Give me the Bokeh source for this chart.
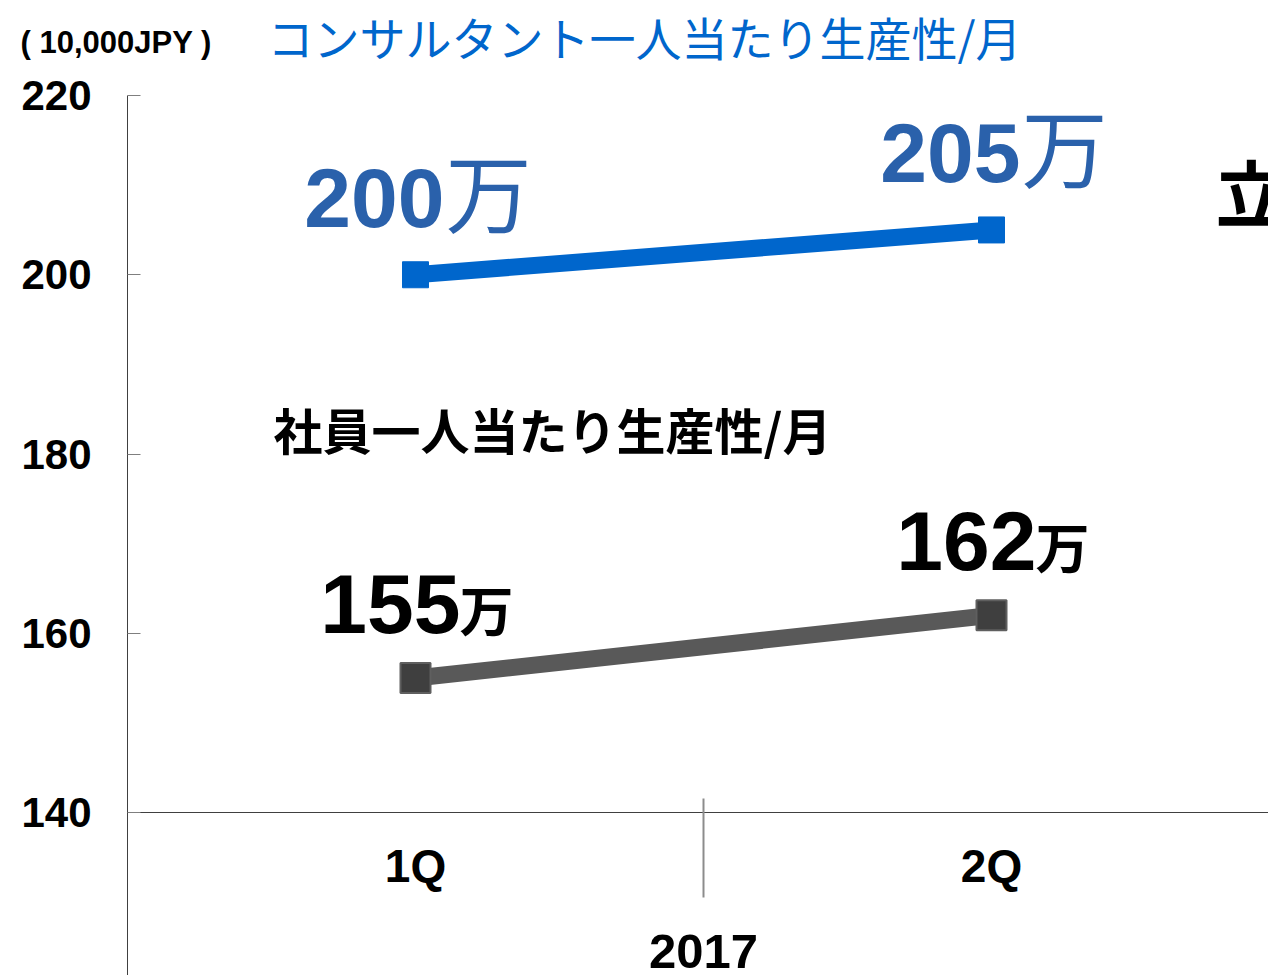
from bokeh.plotting import figure
from bokeh.models import Range1d, LinearAxis, FixedTicker, Label, ColumnDataSource
from bokeh.core.properties import value
from bokeh.embed import file_html
from bokeh.resources import INLINE

# ---- data ----
categories = ["1Q", "2Q"]
year = "2017"
consultant = [200, 205]
employee = [155, 162]
unit = "万"
y_ticks = [140, 160, 180, 200, 220]
title_text = "コンサルタント一人当たり生産性/月"
subtitle_text = "社員一人当たり生産性/月"
unit_text = "( 10,000JPY )"
cut_text = "立"

x = [i + 0.5 for i in range(len(categories))]
seps = [float(i) for i in range(1, len(categories))]

LAT = "Liberation Sans"
CJK = "Noto Sans CJK JP"

W, H = 1268, 975
x0_px, px_per_cat = 127, 576.0
top_px, px_per_unit = 95, 717 / 80.0
x_start = -x0_px / px_per_cat
x_end = (W - x0_px) / px_per_cat
y_end = y_ticks[-1] + top_px / px_per_unit
y_start = y_ticks[-1] - (H - top_px) / px_per_unit

p = figure(width=W, height=H, output_backend="svg", toolbar_location=None,
           x_range=Range1d(x_start, x_end), y_range=Range1d(y_start, y_end),
           x_axis_type=None, y_axis_type=None,
           min_border_left=0, min_border_right=0, min_border_top=0, min_border_bottom=0)
p.outline_line_color = None
p.background_fill_color = "white"
p.border_fill_color = "white"

# y axis
yaxis = LinearAxis(fixed_location=0, ticker=FixedTicker(ticks=y_ticks),
                   bounds=(y_start, y_ticks[-1]))
yaxis.axis_line_color = "#404040"
yaxis.axis_line_width = 1
yaxis.major_tick_in = 13
yaxis.major_tick_out = 0
yaxis.major_tick_line_color = "#7f7f7f"
yaxis.minor_tick_line_color = None
yaxis.major_label_text_font = LAT
yaxis.major_label_text_font_style = "bold"
yaxis.major_label_text_font_size = "42px"
yaxis.major_label_text_color = "black"
yaxis.major_label_standoff = 36
p.add_layout(yaxis, "left")

# x axis (category axis at 140)
xaxis = LinearAxis(fixed_location=y_ticks[0], ticker=FixedTicker(ticks=x),
                   bounds=(0, x_end),
                   major_label_overrides={xi: c for xi, c in zip(x, categories)})
xaxis.axis_line_color = "#404040"
xaxis.axis_line_width = 1
xaxis.major_tick_in = 0
xaxis.major_tick_out = 0
xaxis.minor_tick_line_color = None
xaxis.major_label_text_font = LAT
xaxis.major_label_text_font_style = "bold"
xaxis.major_label_text_font_size = "46px"
xaxis.major_label_text_color = "black"
xaxis.major_label_standoff = 27
p.add_layout(xaxis, "below")

# separators between categories
sep = LinearAxis(fixed_location=y_ticks[0], ticker=FixedTicker(ticks=seps))
sep.axis_line_color = None
sep.major_tick_in = 14
sep.major_tick_out = 85
sep.major_tick_line_color = "#8c8c8c"
sep.major_tick_line_width = 2
sep.minor_tick_line_color = None
sep.major_label_text_color = None
p.add_layout(sep, "below")

# lines and markers
p.line(x, employee, line_color="#595959", line_width=17)
p.scatter(x, employee, marker="square", size=30, fill_color="#3F3F3F",
          line_color="#5F5F5F", line_width=2)
p.line(x, consultant, line_color="#0066CC", line_width=17)
p.scatter(x, consultant, marker="square", size=26, fill_color="#0066CC",
          line_color="#0066CC", line_width=1)

# data labels
src_c = ColumnDataSource(dict(x=x, y=consultant, num=[str(v) for v in consultant],
                              u=[unit] * len(x)))
src_e = ColumnDataSource(dict(x=x, y=employee, num=[str(v) for v in employee],
                              u=[unit] * len(x)))

p.text(x="x", y="y", text="num", source=src_c, text_font=value(LAT),
       text_font_style="bold", text_font_size="84px", text_color="#2A61AB",
       text_align="right", text_baseline="alphabetic", x_offset=29, y_offset=-77)
p.text(x="x", y="y", text="u", source=src_c, text_font=value(CJK),
       text_font_size="86px", text_color="#2A61AB",
       text_align="left", text_baseline="alphabetic", x_offset=30, y_offset=-85)

p.text(x="x", y="y", text="num", source=src_e, text_font=value(LAT),
       text_font_style="bold", text_font_size="84px", text_color="black",
       text_align="right", text_baseline="alphabetic", x_offset=45, y_offset=-74)
p.text(x="x", y="y", text="u", source=src_e, text_font=value(CJK),
       text_font_style="bold", text_font_size="54px", text_color="black",
       text_align="left", text_baseline="alphabetic", x_offset=44, y_offset=-70)

# texts
p.add_layout(Label(x=267, y=940, x_units="screen", y_units="screen", text=title_text,
                   text_font=CJK, text_font_size="46px", text_color="#0066CC",
                   text_baseline="alphabetic"))
p.add_layout(Label(x=20, y=933, x_units="screen", y_units="screen", text=unit_text,
                   text_font=LAT, text_font_style="bold", text_font_size="31px",
                   text_color="black", text_baseline="alphabetic"))
p.add_layout(Label(x=273, y=547, x_units="screen", y_units="screen", text=subtitle_text,
                   text_font=CJK, text_font_style="bold", text_font_size="49px",
                   text_color="black", text_baseline="alphabetic"))
p.add_layout(Label(x=sum(x) / len(x), y=24, x_units="data", y_units="screen", text=year,
                   text_font=LAT, text_font_style="bold", text_font_size="49px",
                   text_color="black", text_align="center", text_baseline="alphabetic"))
p.add_layout(Label(x=1215, y=786, x_units="screen", y_units="screen", text=cut_text,
                   text_font=CJK, text_font_style="bold", text_font_size="72px",
                   text_color="black", text_baseline="alphabetic"))

open("out.html", "w").write(file_html(p, INLINE))
